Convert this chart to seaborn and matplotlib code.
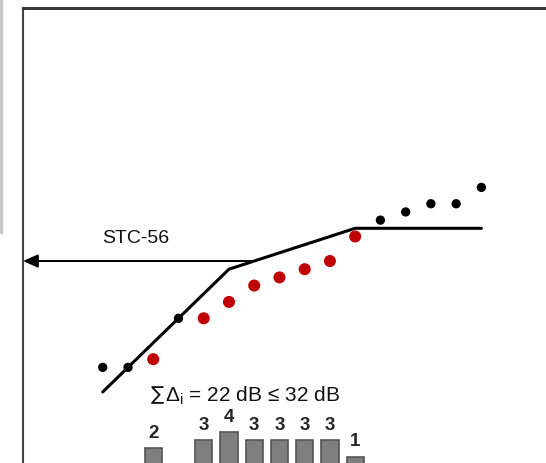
import numpy as np
import matplotlib
matplotlib.use("Agg")
import matplotlib.pyplot as plt
from matplotlib.patches import Rectangle
import pandas as pd
import seaborn as sns

sns.set_style("white")
plt.rcParams['font.family'] = ['Liberation Sans', 'DejaVu Sans']
#####################################################################
# one-third octave bands 125 Hz .. 4000 Hz
freqs = ['125', '160', '200', '250', '315', '400', '500', '630', '800',
         '1000', '1250', '1600', '2000', '2500', '3150', '4000']
tl_measured = [43, 43, 44, 49, 49, 51, 53, 54, 55, 56, 59, 61, 62, 63, 63, 65]
deficiency = [0, 0, 2, 0, 3, 4, 3, 3, 3, 3, 1, 0, 0, 0, 0, 0]
contour_band = [0, 5, 10, 15]
contour_db = [40, 55, 60, 60]
stc = 56
bar_base = 31.1
#####################################################################
band = np.arange(len(freqs))
df = pd.DataFrame({'band': band, 'freq': freqs, 'tl': tl_measured,
                   'def': deficiency})
df['kind'] = np.where(df['def'] > 0, 'below', 'ok')
df_c = pd.DataFrame({'band': contour_band, 'db': contour_db})

fig = plt.figure(figsize=(5.46, 4.63), dpi=100)
ax = fig.add_axes([23/546, 0.0, 1 - 23/546, 455/463])

# deficiency bars
hit = df[df['def'] > 0]
ax.bar(hit['band'], hit['def'], bottom=bar_base, width=0.68,
       color='#7f7f7f', edgecolor='#555555', linewidth=1.2, zorder=2)
for b, d in zip(hit['band'], hit['def']):
    ax.annotate(str(d), (b, bar_base + d), xytext=(0, 4.5),
                textcoords='offset points', ha='center', va='bottom',
                fontsize=13.5, fontweight='bold')

# reference contour
sns.lineplot(data=df_c, x='band', y='db', color='black', lw=2.2,
             ax=ax, zorder=3)

# measured data
sns.scatterplot(data=df[df['kind'] == 'ok'], x='band', y='tl', color='black',
                s=45, edgecolor='none', ax=ax, zorder=4)
sns.scatterplot(data=df[df['kind'] == 'below'], x='band', y='tl',
                color='#c00000', s=75, edgecolor='none', ax=ax, zorder=4)

# STC arrow
ax.annotate('', xy=(-3.16, stc), xytext=(6, stc),
            arrowprops=dict(arrowstyle='-|>,head_length=0.9,head_width=0.4',
                            color='black', lw=1.4, shrinkA=0, shrinkB=0,
                            mutation_scale=10))
ax.text(1.32, 58.8, 'STC-%d' % stc, ha='center', va='center', fontsize=14,
        color='#111111')
# sum of deficiencies
ax.text(2.42, 39.0, '\u2211', ha='right', va='baseline', fontsize=14,
        color='#111111', family=['DejaVu Sans'])
ax.text(2.45, 38.9, '\u0394$_\\mathregular{i}$ = 22 dB \u2264 32 dB',
        ha='left', va='baseline', fontsize=15, color='#111111')

ax.set_xlim(-3.16, 17.56)
ax.set_ylim(31.31, 86.93)
ax.set_yticks([40, 50, 60, 70, 80])
ax.set_yticklabels([])
ax.set_xticks([])
ax.tick_params(axis='y', direction='out', length=2, width=1, color='#444444')
ax.set_xlabel('')
ax.set_ylabel('')
ax.spines['right'].set_visible(False)
ax.spines['bottom'].set_visible(False)
ax.spines['top'].set_color('#3a3a3a')
ax.spines['top'].set_linewidth(2.2)
ax.spines['left'].set_color('#444444')
ax.spines['left'].set_linewidth(1.5)

# thin grey strip at the far left edge
fig.patches.append(Rectangle((0, 1 - 233/463), 2/546, 233/463,
                             transform=fig.transFigure, color='#c8c8c8'))

fig.savefig('out.png', dpi=100)
